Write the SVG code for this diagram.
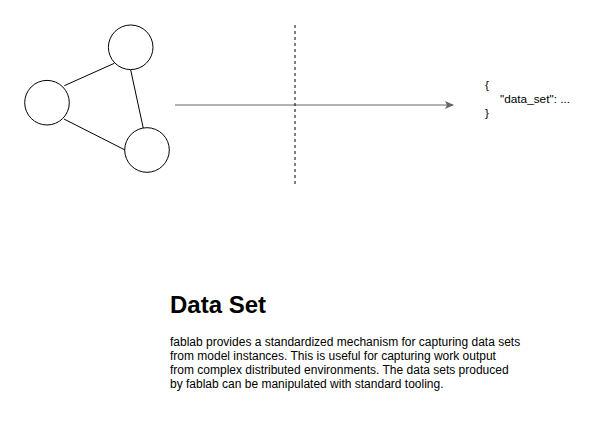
<svg xmlns="http://www.w3.org/2000/svg" width="611" height="421" viewBox="0 0 611 421">
<style>
.n{fill:#fff;stroke:#000;stroke-width:1}
.e{stroke:#000;stroke-width:1;fill:none}
.t{font-family:"Liberation Sans",Arial,sans-serif;fill:#000}
</style>
<defs>
<marker id="ah" markerWidth="10" markerHeight="10" refX="8" refY="5" orient="auto" markerUnits="userSpaceOnUse">
<path d="M0,1 L9,5 L0,9 L2,5 Z" fill="#666"/>
</marker>
</defs>
<rect width="611" height="421" fill="#fff"/>
<g id="connectors">
<line class="e" x1="64.3" y1="85.7" x2="114.3" y2="63.3"/>
<line class="e" x1="64" y1="119" x2="125" y2="150"/>
<line class="e" x1="130.7" y1="70" x2="143.3" y2="128.3"/>
<line x1="175" y1="105" x2="453" y2="105" stroke="#666" stroke-width="1" marker-end="url(#ah)"/>
<line x1="295" y1="25" x2="295" y2="185" stroke="#000" stroke-width="1" stroke-dasharray="3,3"/>
</g>
<g id="node-top"><circle class="n" cx="130.7" cy="47.3" r="22.3"/></g>
<g id="node-left"><circle class="n" cx="47" cy="102.7" r="22.3"/></g>
<g id="node-bottom"><circle class="n" cx="147" cy="150" r="22.3"/></g>
<g id="json" class="t" font-size="11.8">
<text x="485" y="89">{</text>
<text x="500" y="103">"data_set": ...</text>
<text x="485" y="117">}</text>
</g>
<g id="title"><text class="t" x="170" y="313" font-size="24" font-weight="bold">Data Set</text></g>
<g id="body" class="t" font-size="12">
<text x="170" y="346">fablab provides a standardized mechanism for capturing data sets</text>
<text x="170" y="360">from model instances. This is useful for capturing work output</text>
<text x="170" y="374">from complex distributed environments. The data sets produced</text>
<text x="170" y="388">by fablab can be manipulated with standard tooling.</text>
</g>
</svg>
